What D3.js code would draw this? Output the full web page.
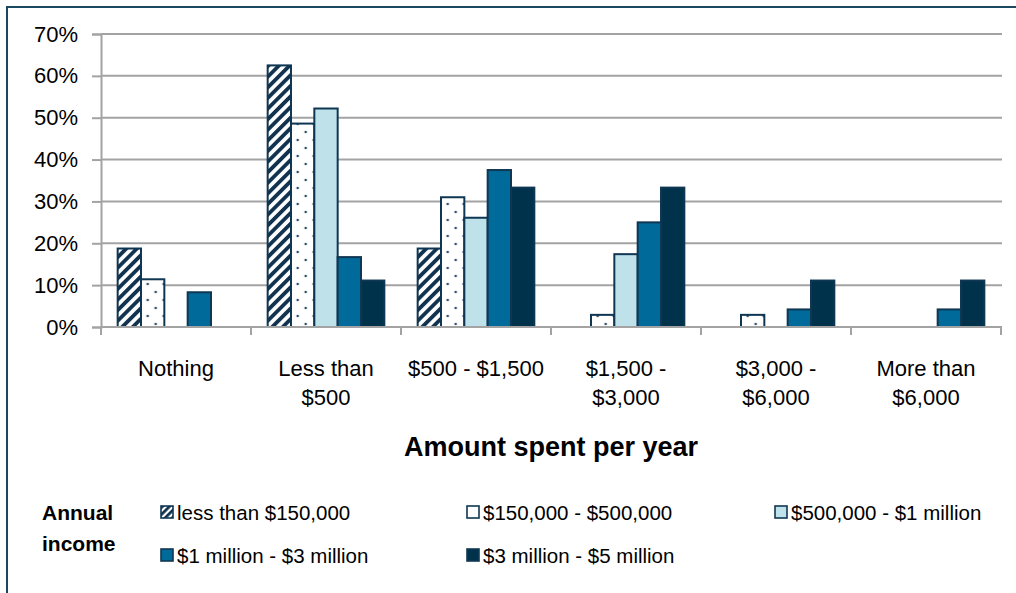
<!DOCTYPE html>
<html>
<head>
<meta charset="utf-8">
<script src="https://cdn.jsdelivr.net/npm/d3@7"></script>
<style>
  html, body { margin: 0; padding: 0; background: #fff; }
  svg { display: block; font-family: "Liberation Sans", Arial, sans-serif; }
</style>
</head>
<body>
<svg id="chart" width="1016" height="593"></svg>
<script>
// Spending categories along the x axis (label lines)
const categories = ["Nothing", "Less than $500", "$500 - $1,500", "$1,500 - $3,000", "$3,000 - $6,000", "More than $6,000"];
const categoryLines = [["Nothing"], ["Less than", "$500"], ["$500 - $1,500"], ["$1,500 -", "$3,000"], ["$3,000 -", "$6,000"], ["More than", "$6,000"]];

// Income groups (series)
const seriesNames = ["less than $150,000", "$150,000 - $500,000", "$500,000 - $1 million", "$1 million - $3 million", "$3 million - $5 million"];

// Share of respondents in each income group, per spending category (%)
const lessThan150k   = [18.75, 62.5, 18.75, 0,   0,   0];
const from150kTo500k = [11.4,  48.6, 31.0,  2.9, 2.9, 0];
const from500kTo1m   = [0,     52.2, 26.1,  17.4, 0,  0];
const from1mTo3m     = [8.3,   16.7, 37.5,  25.0, 4.2, 4.2];
const from3mTo5m     = [0,     11.1, 33.3,  33.3, 11.1, 11.1];
const seriesValues = [lessThan150k, from150kTo500k, from500kTo1m, from1mTo3m, from3mTo5m];

const yTicks = [0, 10, 20, 30, 40, 50, 60, 70];

const svg = d3.select("#chart");
const outline = "#0f3753";
const fills = ["url(#hatch)", "url(#dots)", "#bfe1ea", "#006a9a", "#00334b"];

// Patterns
const defs = svg.append("defs");
const hatch = defs.append("pattern").attr("id", "hatch")
  .attr("patternUnits", "userSpaceOnUse").attr("width", 7.5).attr("height", 7.5)
  .attr("patternTransform", "rotate(45)");
hatch.append("rect").attr("width", 7.5).attr("height", 7.5).attr("fill", "#fff");
hatch.append("rect").attr("width", 3.8).attr("height", 7.5).attr("fill", "#123350");

const dots = defs.append("pattern").attr("id", "dots")
  .attr("patternUnits", "userSpaceOnUse").attr("width", 16).attr("height", 16)
  .attr("x", 2).attr("y", 0);
dots.append("rect").attr("width", 16).attr("height", 16).attr("fill", "#fff");
dots.append("circle").attr("cx", 4).attr("cy", 4).attr("r", 1.3).attr("fill", "#34506b");
dots.append("circle").attr("cx", 12).attr("cy", 12).attr("r", 1.3).attr("fill", "#34506b");

const legendHatch = defs.append("pattern").attr("id", "hatchSmall")
  .attr("patternUnits", "userSpaceOnUse").attr("width", 5).attr("height", 5)
  .attr("patternTransform", "rotate(45)");
legendHatch.append("rect").attr("width", 5).attr("height", 5).attr("fill", "#fff");
legendHatch.append("rect").attr("width", 2.8).attr("height", 5).attr("fill", "#123350");

// Frame
svg.append("path").attr("d", "M7,600 V7 H1020")
  .attr("fill", "none").attr("stroke", "#1b4861").attr("stroke-width", 2);

// Scales
const plotLeft = 101, plotRight = 1001, plotTop = 34, plotBottom = 327;
const y = d3.scaleLinear().domain([0, 70]).range([plotBottom, plotTop]);
const x0 = d3.scaleBand().domain(categories).range([plotLeft, plotRight])
  .paddingInner(2 / 9).paddingOuter(1 / 9);
const x1 = d3.scaleBand().domain(seriesNames).range([0, x0.bandwidth()]);

// Gridlines
const grid = "#a3a3a3";
svg.append("g").selectAll("line").data(yTicks.slice(1)).join("line")
  .attr("x1", plotLeft).attr("x2", plotRight + 1)
  .attr("y1", d => y(d)).attr("y2", d => y(d))
  .attr("stroke", grid).attr("stroke-width", 2);

// Y axis
const yAxis = svg.append("g").attr("transform", `translate(${plotLeft},0)`)
  .call(d3.axisLeft(y).tickValues(yTicks).tickSize(9).tickPadding(14).tickFormat(d => d + "%"));
yAxis.select(".domain").attr("stroke", grid).attr("stroke-width", 2);
yAxis.selectAll(".tick line").attr("stroke", grid).attr("stroke-width", 2);
yAxis.selectAll(".tick text").attr("font-size", 22).attr("fill", "#000")
  .attr("font-family", "Liberation Sans, Arial, sans-serif");

// Bars
const groups = svg.append("g").selectAll("g").data(categories).join("g")
  .attr("transform", d => `translate(${x0(d)},0)`);
groups.selectAll("rect")
  .data((c, ci) => seriesNames.map((s, si) => ({ s, si, v: seriesValues[si][ci] })).filter(d => d.v > 0))
  .join("rect")
  .attr("x", d => x1(d.s))
  .attr("width", x1.bandwidth())
  .attr("y", d => y(d.v))
  .attr("height", d => y(0) - y(d.v))
  .attr("fill", d => fills[d.si])
  .attr("stroke", outline)
  .attr("stroke-width", 2);

// X axis
const xAxisG = svg.append("g");
xAxisG.append("line").attr("x1", plotLeft).attr("x2", plotRight + 1)
  .attr("y1", plotBottom).attr("y2", plotBottom)
  .attr("stroke", grid).attr("stroke-width", 2);
const boundaries = categories.map(c => x0(c) - x0.step() * x0.paddingOuter()).concat([plotRight]);
xAxisG.selectAll("line.tick").data(boundaries).join("line").attr("class", "tick")
  .attr("x1", d => d).attr("x2", d => d)
  .attr("y1", plotBottom).attr("y2", plotBottom + 8)
  .attr("stroke", grid).attr("stroke-width", 2);

const catLabels = svg.append("g").selectAll("text").data(categories).join("text")
  .attr("x", d => x0(d) + x0.bandwidth() / 2)
  .attr("y", 376)
  .attr("text-anchor", "middle")
  .attr("font-size", 22)
  .attr("fill", "#000");
catLabels.selectAll("tspan").data((d, i) => categoryLines[i]).join("tspan")
  .attr("x", function () { return d3.select(this.parentNode).attr("x"); })
  .attr("dy", (d, i) => i === 0 ? 0 : 29)
  .text(d => d);

// Axis title
svg.append("text").attr("x", 551).attr("y", 456)
  .attr("text-anchor", "middle").attr("font-size", 27).attr("font-weight", "bold")
  .attr("fill", "#000").text("Amount spent per year");

// Legend
svg.append("text").attr("x", 42).attr("y", 520).attr("font-size", 21)
  .attr("font-weight", "bold").text("Annual");
svg.append("text").attr("x", 42).attr("y", 551).attr("font-size", 21)
  .attr("font-weight", "bold").text("income");

const legendPos = [[161, 513], [467, 513], [775, 513], [161, 556], [467, 556]];
const legendFills = ["url(#hatchSmall)", "#fff", "#bfe1ea", "#006a9a", "#00334b"];
const legend = svg.append("g").selectAll("g").data(seriesNames).join("g")
  .attr("transform", (d, i) => `translate(${legendPos[i][0]},${legendPos[i][1]})`);
legend.append("rect").attr("x", 0).attr("y", -7).attr("width", 12).attr("height", 12)
  .attr("fill", (d, i) => legendFills[i]).attr("stroke", outline).attr("stroke-width", 1.6);
legend.append("text").attr("x", 16).attr("y", 7).attr("font-size", 20.5).attr("fill", "#000")
  .text(d => d);
</script>
</body>
</html>
